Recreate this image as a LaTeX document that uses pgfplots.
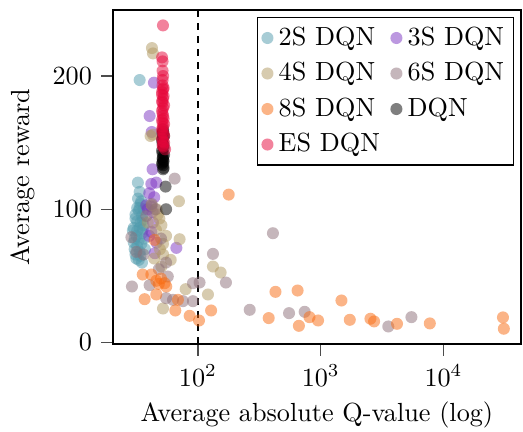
\documentclass[border=0pt]{standalone}
\usepackage{pgfplots}
\pgfplotsset{compat=1.18}

\definecolor{cTwo}{HTML}{519BAD}
\definecolor{cThree}{HTML}{7B33C2}
\definecolor{cFour}{HTML}{B09860}
\definecolor{cSix}{HTML}{8C6E78}
\definecolor{cEight}{HTML}{F86A10}
\definecolor{cDQN}{HTML}{000000}
\definecolor{cES}{HTML}{E6063A}

\pgfplotsset{
  dot/.style={only marks, mark=*, mark size=2.3pt, color=#1,
    mark options={fill=#1, fill opacity=0.5, draw opacity=0, line width=0pt}},
}

\begin{document}
\begin{tikzpicture}
\begin{axis}[
    scale only axis,
    width=155.7pt, height=127.5pt,
    xmode=log,
    xmin=20.3, xmax=42700,
    ymin=-1.2, ymax=249.6,
    xtick={100,1000,10000},
    ytick={0,100,200},
    xminorticks=false,
    tick align=outside,
    tick pos=left,
    major tick length=4.5pt,
    tick style={black!70, line width=0.5pt},
    axis line style={line width=0.5pt},
    xlabel={Average absolute Q-value (log)},
    ylabel={Average reward},
    xlabel style={yshift=1pt},
    legend columns=2,
    legend cell align=left,
    legend style={at={(0.983,0.979)}, anchor=north east, draw=black,
        line width=0.5pt, inner sep=1.5pt, row sep=1pt,
        /tikz/every even column/.append style={column sep=2pt}},
]

\addplot[black, line width=0.55pt, dash pattern=on 2.7pt off 2.3pt, forget plot]
    coordinates {(100,-1.2) (100,249.6)};

% 2S DQN
\addplot[dot=cTwo] coordinates {
    (33.5,197) (32.4,120) (33.5,113) (34.5,106) (32,101) (31,96) (32,91)
    (33.5,86) (35,82) (31.5,80) (33,77) (34.5,74) (32,72) (30.5,70)
    (33.5,68) (34,65) (31.5,63) (36,88) (35,95) (34,104) (29.5,84)
    (36.5,78) (33,99) (35.5,92) (37,70) (30,75) (35,60)
    (30,86) (32,84) (34,90) (31,93) (33.5,101) (36,100) (31,66)
    (33,62) (35.5,85) (32.5,108) (30.5,78)
};
\addlegendentry{2S DQN}

% 3S DQN
\addplot[dot=cThree] coordinates {
    (43.8,195) (40.4,170) (42,158) (42.7,130) (45.8,120) (41.7,119)
    (40.1,112) (44,109) (41.7,102) (42.7,98) (41.7,83) (40.1,80)
    (66.7,71) (44.5,67) (39,100) (43,90) (38,103) (46,75)
};
\addlegendentry{3S DQN}

% 4S DQN
\addplot[dot=cFour] coordinates {
    (42.2,221) (43,217) (41.1,155) (43,156) (70,106) (70.9,77.5) (51.9,74)
    (132.5,57) (153,52.5) (79.4,40) (120.6,36) (51.9,25.5) (50.4,88)
    (48.5,93) (45.5,84.5) (50.4,57) (47,96) (46,100) (44,63) (52,66)
    (49,70) (42,103) (39,90) (55,80) (60,62)
};
\addlegendentry{4S DQN}

% 6S DQN
\addplot[dot=cSix] coordinates {
    (64.6,123) (28.7,79) (31.5,68) (132.5,66.5) (169,45) (29,42) (55,60)
    (56.8,49.5) (40.4,43) (91,44.5) (103,45) (55,33.3) (62.6,32) (75.5,31)
    (91,31) (264,24.5) (408,82) (552,22) (740,23) (3550,12) (5480,19)
    (45,100) (38,95) (50,78) (36,66) (48,55) (42,104)
};
\addlegendentry{6S DQN}

% 8S DQN
\addplot[dot=cEight] coordinates {
    (178,111) (428,38) (648,39) (377,18.3) (664,12.5) (810,19) (951,16.5)
    (1475,31.5) (1725,17) (2540,17.8) (2720,15.8) (4180,14) (7740,14.3)
    (30500,18.8) (31000,10.3) (128,24) (102,16.5) (85.6,20) (44.3,77)
    (35.5,51) (41.7,51) (45.8,46.3) (53.5,44.5) (55.2,42) (36.8,32.5)
    (45.8,36) (65.4,24) (68.7,32) (50,48) (48,44)
};
\addlegendentry{8S DQN}

% DQN
\addplot[dot=cDQN] coordinates {
    (52,160) (51.5,157) (52,154) (51.5,150) (52.5,146) (51.5,142) (52,139)
    (52,137) (51.5,135) (52,133) (54.5,117) (55,100)
    (52,158) (53,155) (51,152) (52.5,148) (51,144) (53,141) (51.5,138)
    (52.5,136) (51,134) (52.5,131) (52,130)
};
\addlegendentry{DQN}

% ES DQN
\addplot[dot=cES] coordinates {
    (51.9,238) (51,214) (51.5,211) (51.5,204) (51.5,193) (52,190) (51,186)
    (52,183) (51.5,180) (52,176) (51.5,172) (52.5,168) (51.5,165) (52,162)
    (51.5,158) (53,155) (52,151) (51.5,148) (54,145)
    (52.5,191) (51,188) (52.5,185) (51,181) (53,178) (51,174) (52,170)
    (51,167) (53,164) (51,160) (52.5,157) (51,153) (53,150) (52,147)
    (52,200) (51.5,197)
};
\addlegendentry{ES DQN}

\end{axis}
\pgfresetboundingbox
\path ([shift={(-43.1pt,-33.2pt)}]current axis.south west)
    rectangle ([shift={(0.8pt,3.8pt)}]current axis.north east);
\end{tikzpicture}
\end{document}
